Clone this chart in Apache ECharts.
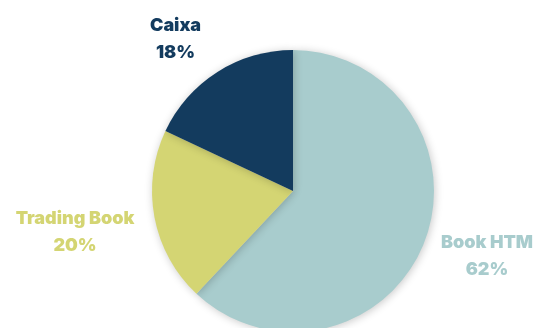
<!DOCTYPE html>
<html><head><meta charset="utf-8">
<script src="https://cdn.jsdelivr.net/npm/echarts@6/dist/echarts.min.js"></script>
<style>html,body{margin:0;padding:0;background:#fff}#c{width:534px;height:328px}</style>
</head><body><div id="c"></div>
<script>
const categories = ['Book HTM', 'Trading Book', 'Caixa'];
const values = [62, 20, 18];
const colors = ['#A8CCCD', '#D4D573', '#133B5E'];
const labelPos = [[487, 256], [75, 232], [175.5, 39]];

const chart = echarts.init(document.getElementById('c'));
chart.setOption({
  animation: false,
  series: [{
    type: 'pie',
    center: [293, 191],
    radius: [0, 141],
    startAngle: 90,
    clockwise: true,
    data: categories.map((n, i) => ({
      name: n, value: values[i],
      itemStyle: { color: colors[i] },
      label: { color: colors[i] }
    })),
    itemStyle: { shadowBlur: 8, shadowColor: 'rgba(0,0,0,0.22)', shadowOffsetX: 1, shadowOffsetY: 1 },
    label: {
      show: true, position: 'outside',
      formatter: '{b}\n{c}%',
      fontFamily: 'Inter', fontWeight: 900, fontSize: 18, lineHeight: 27,
      align: 'center', overflow: 'none', width: 200
    },
    labelLine: { show: false },
    labelLayout: function (p) {
      const pos = labelPos[p.dataIndex];
      return { x: pos[0], y: pos[1], align: 'center', verticalAlign: 'middle' };
    }
  }]
});
</script></body></html>
